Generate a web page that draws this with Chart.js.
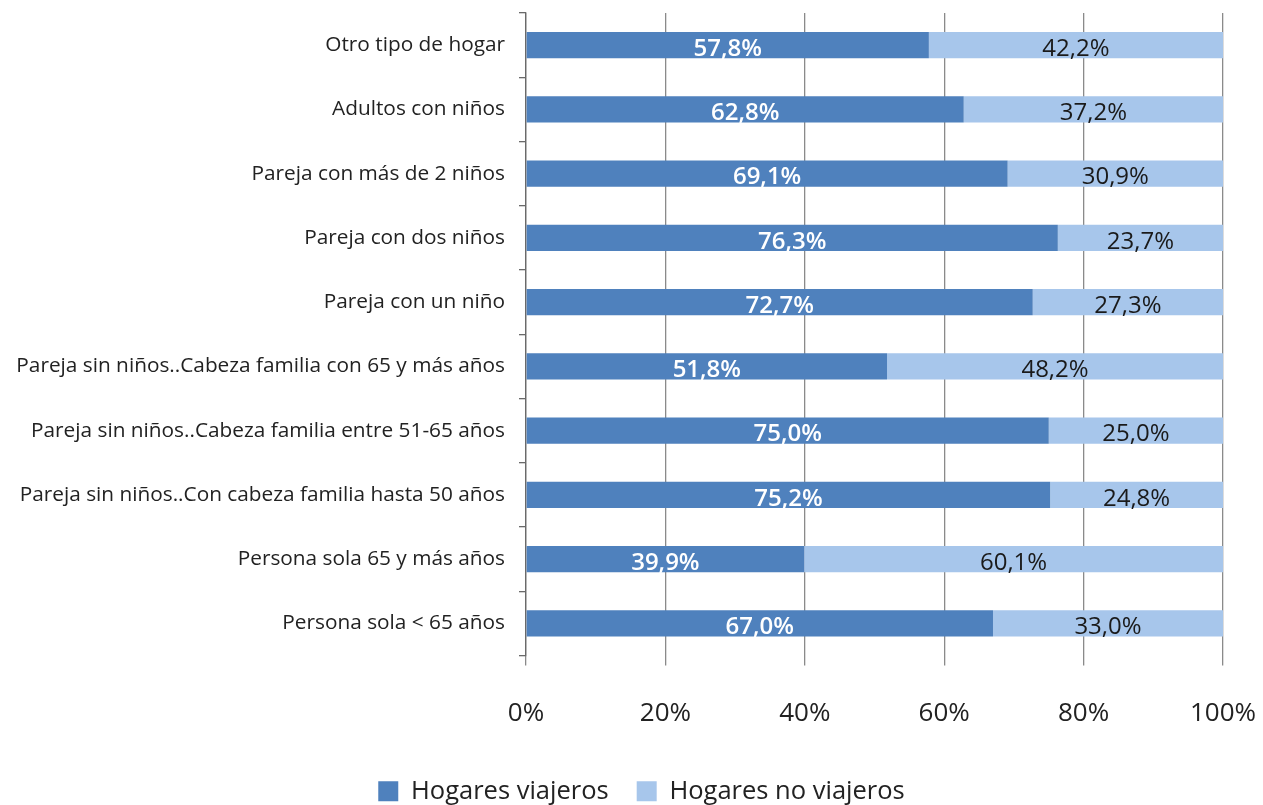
<!DOCTYPE html>
<html>
<head>
<meta charset="utf-8">
<script src="https://cdn.jsdelivr.net/npm/chart.js@4.4.1/dist/chart.umd.min.js"></script>
<style>
  html, body { margin: 0; padding: 0; background: #fff; }
  #wrap { width: 1263px; height: 805px; position: relative; }
</style>
</head>
<body>
<div id="wrap"><canvas id="hogares"></canvas></div>
<script>
const categories = [
    'Otro tipo de hogar',
    'Adultos con niños',
    'Pareja con más de 2 niños',
    'Pareja con dos niños',
    'Pareja con un niño',
    'Pareja sin niños..Cabeza familia con 65 y más años',
    'Pareja sin niños..Cabeza familia entre 51-65 años',
    'Pareja sin niños..Con cabeza familia hasta 50 años',
    'Persona sola 65 y más años',
    'Persona sola < 65 años'
];
const viajeros = [57.8, 62.8, 69.1, 76.3, 72.7, 51.8, 75.0, 75.2, 39.9, 67.0];
const noViajeros = [42.2, 37.2, 30.9, 23.7, 27.3, 48.2, 25.0, 24.8, 60.1, 33.0];
const xTicks = [0, 20, 40, 60, 80, 100];

const FONT = "'Open Sans', 'Noto Sans', sans-serif";

// draws the percentage inside each bar segment
const segmentLabels = {
    id: 'segmentLabels',
    afterDatasetsDraw(chart) {
        const ctx = chart.ctx;
        ctx.save();
        ctx.textAlign = 'center';
        ctx.textBaseline = 'middle';
        chart.data.datasets.forEach((ds, i) => {
            const meta = chart.getDatasetMeta(i);
            ctx.fillStyle = i === 0 ? '#ffffff' : '#1a1a1a';
            ctx.font = (i === 0 ? '600 ' : '400 ') + '24px ' + FONT;
            meta.data.forEach((bar, j) => {
                const x = (bar.x + bar.base) / 2;
                ctx.fillText(ds.data[j].toFixed(1).replace('.', ',') + '%', x, bar.y + 4);
            });
        });
        ctx.restore();
    }
};

// the original legend sits a bit right of the canvas centre
const legendShift = {
    id: 'legendShift',
    afterLayout(chart) {
        if (chart.legend) {
            chart.legend.left += 26;
            chart.legend.right += 26;
        }
    }
};

new Chart(document.getElementById('hogares'), {
    type: 'bar',
    data: {
        labels: categories,
        datasets: [
            { label: 'Hogares viajeros', data: viajeros, backgroundColor: '#4f81bd', borderWidth: 0 },
            { label: 'Hogares no viajeros', data: noViajeros, backgroundColor: '#a7c6eb', borderWidth: 0 }
        ]
    },
    options: {
        indexAxis: 'y',
        responsive: true,
        maintainAspectRatio: false,
        animation: false,
        categoryPercentage: 0.41,
        barPercentage: 1,
        layout: { padding: { top: 13, right: 40, left: 8, bottom: -9 } },
        scales: {
            x: {
                stacked: true,
                min: 0,
                max: 100,
                afterBuildTicks(axis) { axis.ticks = xTicks.map(v => ({ value: v })); },
                afterFit(scale) {
                    scale.height = 95;
                    scale.paddingLeft = 0;
                    scale.paddingRight = 0;
                },
                ticks: {
                    callback: v => v + '%',
                    color: '#222',
                    font: { family: FONT, size: 26 },
                    padding: 32
                },
                grid: { color: '#8a8a8a', lineWidth: 1.3, tickLength: 10, drawTicks: true },
                border: { display: false }
            },
            y: {
                stacked: true,
                afterFit(scale) {
                    scale.width = 518;
                    scale.paddingTop = 0;
                    scale.paddingBottom = 0;
                },
                ticks: {
                    color: '#222',
                    font: { family: FONT, size: 20.8 },
                    padding: 14
                },
                grid: { offset: true, drawOnChartArea: false, color: '#6a6a6a', tickLength: 7, lineWidth: 1.3 },
                border: { display: true, color: '#6a6a6a', width: 1.3 }
            }
        },
        plugins: {
            legend: {
                position: 'bottom',
                labels: {
                    color: '#222',
                    font: { family: FONT, size: 25.5 },
                    boxWidth: 20,
                    boxHeight: 20,
                    padding: 28
                }
            },
            tooltip: { enabled: false }
        }
    },
    plugins: [segmentLabels, legendShift]
});
</script>
</body>
</html>
